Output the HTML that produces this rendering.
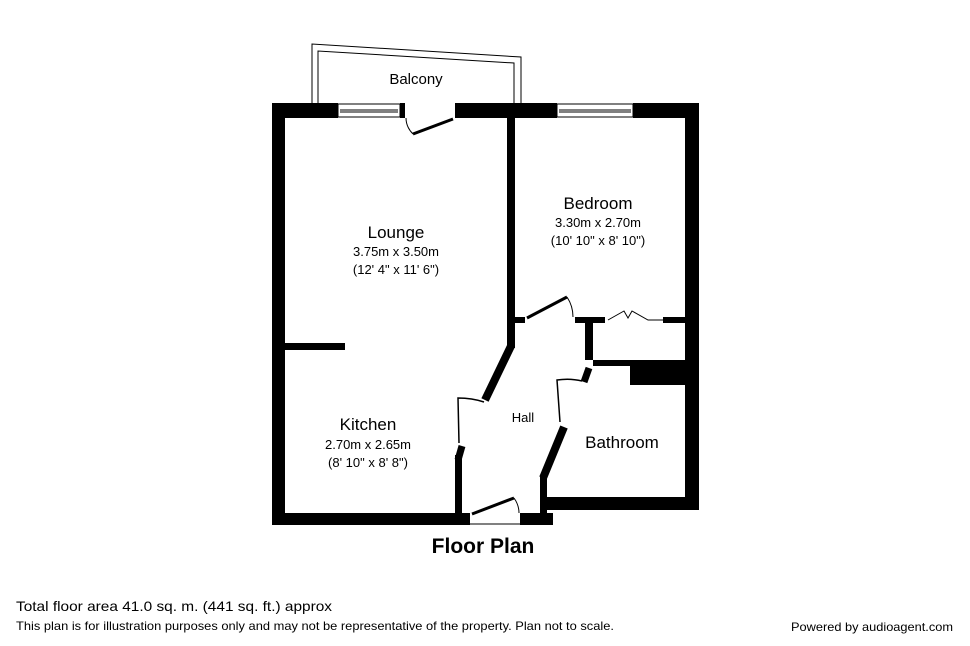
<!DOCTYPE html>
<html><head><style>body{margin:0;background:#fff}svg{display:block}</style></head><body>
<svg width="970" height="646" viewBox="0 0 970 646" xmlns="http://www.w3.org/2000/svg" font-family="Liberation Sans, Arial, sans-serif">
<rect width="970" height="646" fill="#fff"/>
<!-- balcony -->
<path d="M312 103 L312 44 L521 57 L521 103" fill="none" stroke="#000" stroke-width="1"/>
<path d="M318 103 L318 51 L514 63 L514 103" fill="none" stroke="#000" stroke-width="1"/>
<text x="416" y="84" font-size="15" text-anchor="middle">Balcony</text>
<g fill="#000">
<!-- outer walls -->
<rect x="272" y="103" width="66" height="15"/>
<rect x="400" y="103" width="5" height="15"/>
<rect x="455" y="103" width="102" height="15"/>
<rect x="633" y="103" width="66" height="15"/>
<rect x="272" y="103" width="13" height="422"/>
<rect x="685" y="103" width="14" height="407"/>
<rect x="272" y="513" width="198" height="12"/>
<rect x="520" y="513" width="33" height="12"/>
<rect x="545" y="497" width="154" height="13"/>
<!-- interior -->
<rect x="507" y="118" width="8" height="230"/>
<rect x="285" y="343" width="60" height="7"/>
<rect x="515" y="317" width="10" height="6"/>
<rect x="575" y="317" width="30" height="6"/>
<rect x="663" y="317" width="22" height="6"/>
<rect x="585" y="317" width="8" height="43"/>
<rect x="593" y="360" width="92" height="6"/>
<rect x="630" y="366" width="55" height="19"/>
<rect x="455" y="455" width="7" height="58"/>
<rect x="540" y="475" width="7" height="38"/>
</g>
<g stroke="#000" fill="none">
<!-- windows -->
<rect x="338" y="104" width="62" height="13" stroke-width="1"/>
<line x1="340" y1="110" x2="398" y2="110" stroke-width="1"/>
<line x1="340" y1="112" x2="398" y2="112" stroke-width="1"/>
<rect x="557" y="104" width="76" height="13" stroke-width="1"/>
<line x1="559" y1="110" x2="631" y2="110" stroke-width="1"/>
<line x1="559" y1="112" x2="631" y2="112" stroke-width="1"/>
<line x1="470" y1="524" x2="520" y2="524" stroke-width="1"/>
<!-- thick slanted walls -->
<path d="M511 346 L485 400" stroke-width="8"/>
<path d="M462 446 L458 460" stroke-width="7"/>
<path d="M564 427 L543 478" stroke-width="8"/>
<path d="M589 368 L584 382" stroke-width="7"/>
<!-- doors -->
<path d="M453 119 L413 134" stroke-width="3"/>
<path d="M413 134 Q406 127 406 118" stroke-width="1"/>
<path d="M527 318 L567 297" stroke-width="3"/>
<path d="M567 297 Q573 306 573 317" stroke-width="1"/>
<path d="M608 320 L624 311 L628 318 L632 311 L648 320 L663 320" stroke-width="1"/>
<path d="M472 514 L514 498" stroke-width="3"/>
<path d="M514 498 Q519 505 519 513" stroke-width="1"/>
<path d="M459 443 L458 398 Q472 398 484 402" stroke-width="1.5"/>
<path d="M560 422 L557 380 Q570 378 582 381" stroke-width="1.5"/>
</g>
<g text-anchor="middle" fill="#000">
<text x="396" y="238" font-size="17">Lounge</text>
<text x="396" y="256" font-size="13">3.75m x 3.50m</text>
<text x="396" y="274" font-size="13">(12' 4" x 11' 6")</text>
<text x="598" y="209" font-size="17">Bedroom</text>
<text x="598" y="227" font-size="13">3.30m x 2.70m</text>
<text x="598" y="245" font-size="13">(10' 10" x 8' 10")</text>
<text x="368" y="430" font-size="17">Kitchen</text>
<text x="368" y="449" font-size="13">2.70m x 2.65m</text>
<text x="368" y="467" font-size="13">(8' 10" x 8' 8")</text>
<text x="523" y="422" font-size="13">Hall</text>
<text x="622" y="448" font-size="17">Bathroom</text>
<text x="483" y="553" font-size="21" font-weight="bold">Floor Plan</text>
</g>
<text x="16" y="611" font-size="14" textLength="316" lengthAdjust="spacingAndGlyphs">Total floor area 41.0 sq. m. (441 sq. ft.) approx</text>
<text x="16" y="630" font-size="12" textLength="598" lengthAdjust="spacingAndGlyphs">This plan is for illustration purposes only and may not be representative of the property. Plan not to scale.</text>
<text x="791" y="631" font-size="12" textLength="162" lengthAdjust="spacingAndGlyphs">Powered by audioagent.com</text>
</svg>
</body></html>
